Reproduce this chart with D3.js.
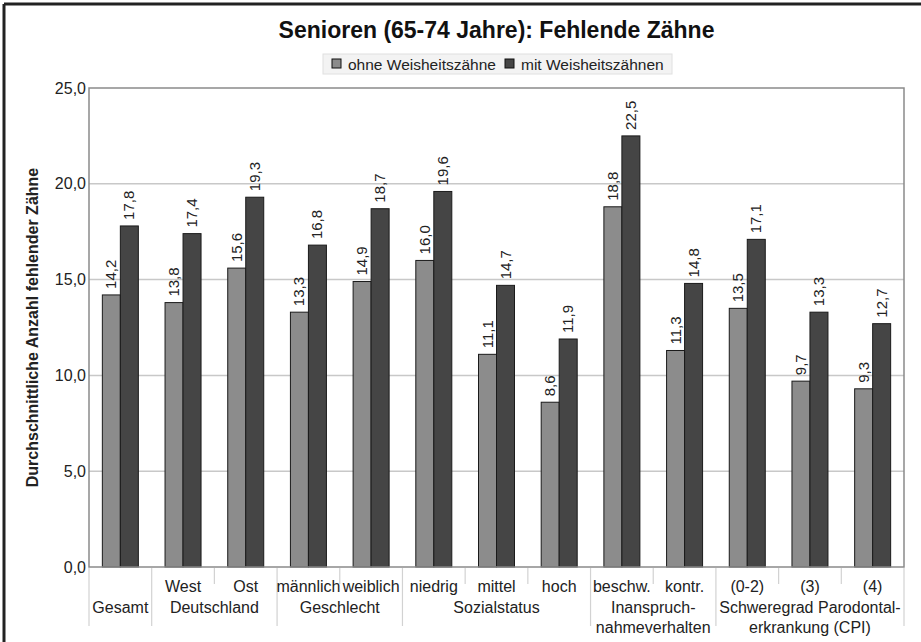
<!DOCTYPE html>
<head>
  <meta charset="utf-8">
  <script src="https://d3js.org/d3.v7.min.js"></script>
  <style>
    body { margin: 0; background: #fff; }
    svg { font-family: "Liberation Sans", Arial, Helvetica, sans-serif; fill: #222; }
    .grid line { stroke: #c8c8c8; stroke-width: 1.5; }
    .sep { stroke: #d2d2d2; stroke-width: 1.2; }
    .bar { stroke: #1a1a1a; stroke-width: 1; }
  </style>
</head>
<body>
  <svg width="921" height="642" id="chart"></svg>
  <script>
    // data
    const categories = ["Gesamt", "West", "Ost", "männlich", "weiblich", "niedrig", "mittel", "hoch",
                        "beschw.", "kontr.", "(0-2)", "(3)", "(4)"];
    const subLabels = ["", "West", "Ost", "männlich", "weiblich", "niedrig", "mittel", "hoch",
                       "beschw.", "kontr.", "(0-2)", "(3)", "(4)"];
    const groupNames = [["Gesamt"], ["Deutschland"], ["Geschlecht"], ["Sozialstatus"],
                        ["Inanspruch-", "nahmeverhalten"], ["Schweregrad Parodontal-", "erkrankung (CPI)"]];
    const groupSizes = [1, 2, 2, 3, 2, 3];
    const ohne = [14.2, 13.8, 15.6, 13.3, 14.9, 16.0, 11.1, 8.6, 18.8, 11.3, 13.5, 9.7, 9.3];
    const mit  = [17.8, 17.4, 19.3, 16.8, 18.7, 19.6, 14.7, 11.9, 22.5, 14.8, 17.1, 13.3, 12.7];
    const seriesNames = ["ohne Weisheitszähne", "mit Weisheitszähnen"];
    const yTicks = [0, 5, 10, 15, 20, 25];

    const colors = ["#8c8c8c", "#454545"];
    const de = d3.formatLocale({decimal: ",", thousands: ".", grouping: [3], currency: ["", " €"]});
    const fmt = de.format(".1f");

    const svg = d3.select("#chart");
    const pLeft = 89, pRight = 904, pTop = 88, pBottom = 567;

    const x0 = d3.scaleBand().domain(categories).range([pLeft, pRight]).padding(0);
    const x1 = d3.scaleBand().domain([0, 1]).range([0, 36]).padding(0);
    const y = d3.scaleLinear().domain([0, 25]).range([pBottom, pTop]);

    // outer frame (top + left)
    svg.append("line").attr("x1", 4).attr("x2", 921).attr("y1", 4).attr("y2", 4)
      .attr("stroke", "#222").attr("stroke-width", 3);
    svg.append("line").attr("x1", 4).attr("x2", 4).attr("y1", 4).attr("y2", 642)
      .attr("stroke", "#222").attr("stroke-width", 3);

    // title
    svg.append("text").attr("x", (pLeft + pRight) / 2).attr("y", 38)
      .attr("text-anchor", "middle").style("font-size", "23px").style("font-weight", "bold")
      .attr("fill", "#111").text("Senioren (65-74 Jahre): Fehlende Zähne");

    // legend
    const lg = svg.append("g");
    lg.append("rect").attr("x", 323).attr("y", 54).attr("width", 349).attr("height", 20)
      .attr("fill", "#f3f3f3").attr("stroke", "#e0e0e0");
    const legX = [332, 505];
    seriesNames.forEach((s, i) => {
      lg.append("rect").attr("x", legX[i]).attr("y", 59).attr("width", 9).attr("height", 9)
        .attr("fill", colors[i]).attr("stroke", "#111");
      lg.append("text").attr("x", legX[i] + 16).attr("y", 69.5).style("font-size", "15.5px")
        .text(s);
    });

    // grid
    svg.append("g").attr("class", "grid")
      .selectAll("line").data(yTicks.filter(d => d > 0 && d < 25)).join("line")
      .attr("x1", pLeft).attr("x2", pRight).attr("y1", d => y(d)).attr("y2", d => y(d));

    // y axis labels
    svg.append("g").selectAll("text").data(yTicks).join("text")
      .attr("x", 86).attr("y", d => y(d)).attr("dy", "0.35em").attr("text-anchor", "end")
      .style("font-size", "16px").text(d => fmt(d));

    svg.append("text")
      .attr("transform", `translate(38,${(pTop + pBottom) / 2}) rotate(-90)`)
      .attr("text-anchor", "middle").style("font-size", "16px").style("font-weight", "bold")
      .text("Durchschnittliche Anzahl fehlender Zähne");

    // bars
    const rows = categories.map((c, i) => ({cat: c, vals: [ohne[i], mit[i]]}));
    const g = svg.append("g").selectAll("g").data(rows).join("g")
      .attr("transform", d => `translate(${x0(d.cat) + x0.bandwidth() / 2 - 18},0)`);
    g.selectAll("rect").data(d => d.vals).join("rect").attr("class", "bar")
      .attr("x", (d, i) => x1(i)).attr("width", x1.bandwidth())
      .attr("y", d => y(d)).attr("height", d => y(0) - y(d))
      .attr("fill", (d, i) => colors[i]);
    g.selectAll("text").data(d => d.vals).join("text")
      .attr("transform", (d, i) => `translate(${x1(i) + x1.bandwidth() / 2 + 5},${y(d) - 6}) rotate(-90)`)
      .style("font-size", "15px").text(d => fmt(d));

    // plot frame
    svg.append("rect").attr("x", pLeft).attr("y", pTop).attr("width", pRight - pLeft).attr("height", pBottom - pTop)
      .attr("fill", "none").attr("stroke", "#8a8a8a").attr("stroke-width", 1.5);

    // category separators and labels
    const bounds = [];
    let k = 0;
    groupSizes.forEach(n => { for (let j = 0; j < n; j++) bounds.push({x: x0(categories[k + j]), long: j === 0}); k += n; });
    bounds.push({x: pRight, long: true});
    svg.append("g").selectAll("line").data(bounds).join("line").attr("class", "sep")
      .attr("x1", d => d.x).attr("x2", d => d.x).attr("y1", pBottom + 1).attr("y2", d => d.long ? 626 : 584);

    svg.append("g").selectAll("text").data(categories).join("text")
      .attr("x", d => x0(d) + x0.bandwidth() / 2).attr("y", 592).attr("text-anchor", "middle")
      .style("font-size", "16px").text((d, i) => subLabels[i]);

    k = 0;
    const glabels = svg.append("g");
    groupSizes.forEach((n, gi) => {
      const cx = (x0(categories[k]) + x0(categories[k + n - 1]) + x0.bandwidth()) / 2;
      groupNames[gi].forEach((line, li) => {
        glabels.append("text").attr("x", cx).attr("y", 613 + li * 19.5).attr("text-anchor", "middle")
          .style("font-size", "16px").text(line);
      });
      k += n;
    });
  </script>
</body>
